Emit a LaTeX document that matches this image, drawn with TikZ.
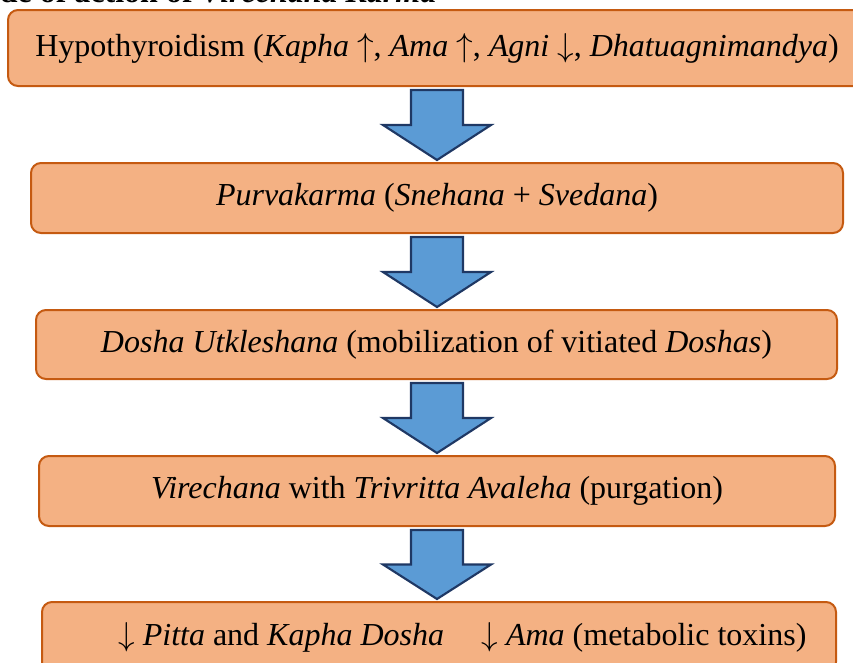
\documentclass[tikz,border=0pt]{standalone}
\usepackage{fontspec}
\setmainfont{Liberation Serif}
\usetikzlibrary{calc}
\definecolor{boxfill}{HTML}{F4B183}
\definecolor{boxline}{HTML}{C55A11}
\definecolor{arrfill}{HTML}{5B9BD5}
\definecolor{arrline}{HTML}{1F3864}
\newcommand{\upar}{$\uparrow$}
\newcommand{\dnar}{$\downarrow$}
\begin{document}
\begin{tikzpicture}[x=0.75pt,y=-0.75pt,
  stepbox/.style={draw=boxline, fill=boxfill, line width=1.5pt, rounded corners=7.5pt,
    font=\fontsize{24}{28}\selectfont, inner sep=0pt},
  blockarrow/.style={draw=arrline, fill=arrfill, line width=1.6pt, line join=miter,
    to path={($(\tikztostart)+(-26,0)$) -- ($(\tikztostart)+(26,0)$)
      -- ($(\tikztostart)!0.5!(\tikztotarget)+(26,0)$)
      -- ($(\tikztostart)!0.5!(\tikztotarget)+(54,0)$)
      -- (\tikztotarget)
      -- ($(\tikztostart)!0.5!(\tikztotarget)+(-54,0)$)
      -- ($(\tikztostart)!0.5!(\tikztotarget)+(-26,0)$) -- cycle}}]
\useasboundingbox (0,0) rectangle (853,662);
\clip (0,0) rectangle (853,662);

\node[anchor=base east, font=\fontsize{24}{28}\selectfont\bfseries] (title) at (441,2)
  {Mode of action of \textit{Virechana Karma}};

\node[stepbox, minimum width=643.5pt, minimum height=57pt] (b1) at (437,48)
  {Hypothyroidism (\textit{Kapha} \upar, \textit{Ama} \upar, \textit{Agni} \dnar, \textit{Dhatuagnimandya})};
\node[stepbox, minimum width=609pt, minimum height=52.5pt] (b2) at (437,198)
  {\textit{Purvakarma} (\textit{Snehana} + \textit{Svedana})};
\node[stepbox, minimum width=600.75pt, minimum height=51.75pt] (b3) at (436.5,344.5)
  {\textit{Dosha Utkleshana} (mobilization of vitiated \textit{Doshas})};
\node[stepbox, minimum width=597pt, minimum height=52.5pt] (b4) at (437,491)
  {\textit{Virechana} with \textit{Trivritta Avaleha} (purgation)};
\node[stepbox, minimum width=595.5pt, minimum height=52.5pt] (b5) at (439,637)
  {\hspace*{35pt}\dnar\ \textit{Pitta} and \textit{Kapha Dosha}\hspace{28pt}\dnar\ \textit{Ama} (metabolic toxins)};

\coordinate (ax) at (437,0);
\coordinate (a1s) at ($(b1.south -| ax)+(0,3)$);
\coordinate (a1e) at ($(b2.north -| ax)+(0,-2)$);
\coordinate (a2s) at ($(b2.south -| ax)+(0,3)$);
\coordinate (a2e) at ($(b3.north -| ax)+(0,-2)$);
\coordinate (a3s) at ($(b3.south -| ax)+(0,3)$);
\coordinate (a3e) at ($(b4.north -| ax)+(0,-2)$);
\coordinate (a4s) at ($(b4.south -| ax)+(0,3)$);
\coordinate (a4e) at ($(b5.north -| ax)+(0,-2)$);

\draw[blockarrow] (a1s) to (a1e);
\draw[blockarrow] (a2s) to (a2e);
\draw[blockarrow] (a3s) to (a3e);
\draw[blockarrow] (a4s) to (a4e);
\end{tikzpicture}
\end{document}
